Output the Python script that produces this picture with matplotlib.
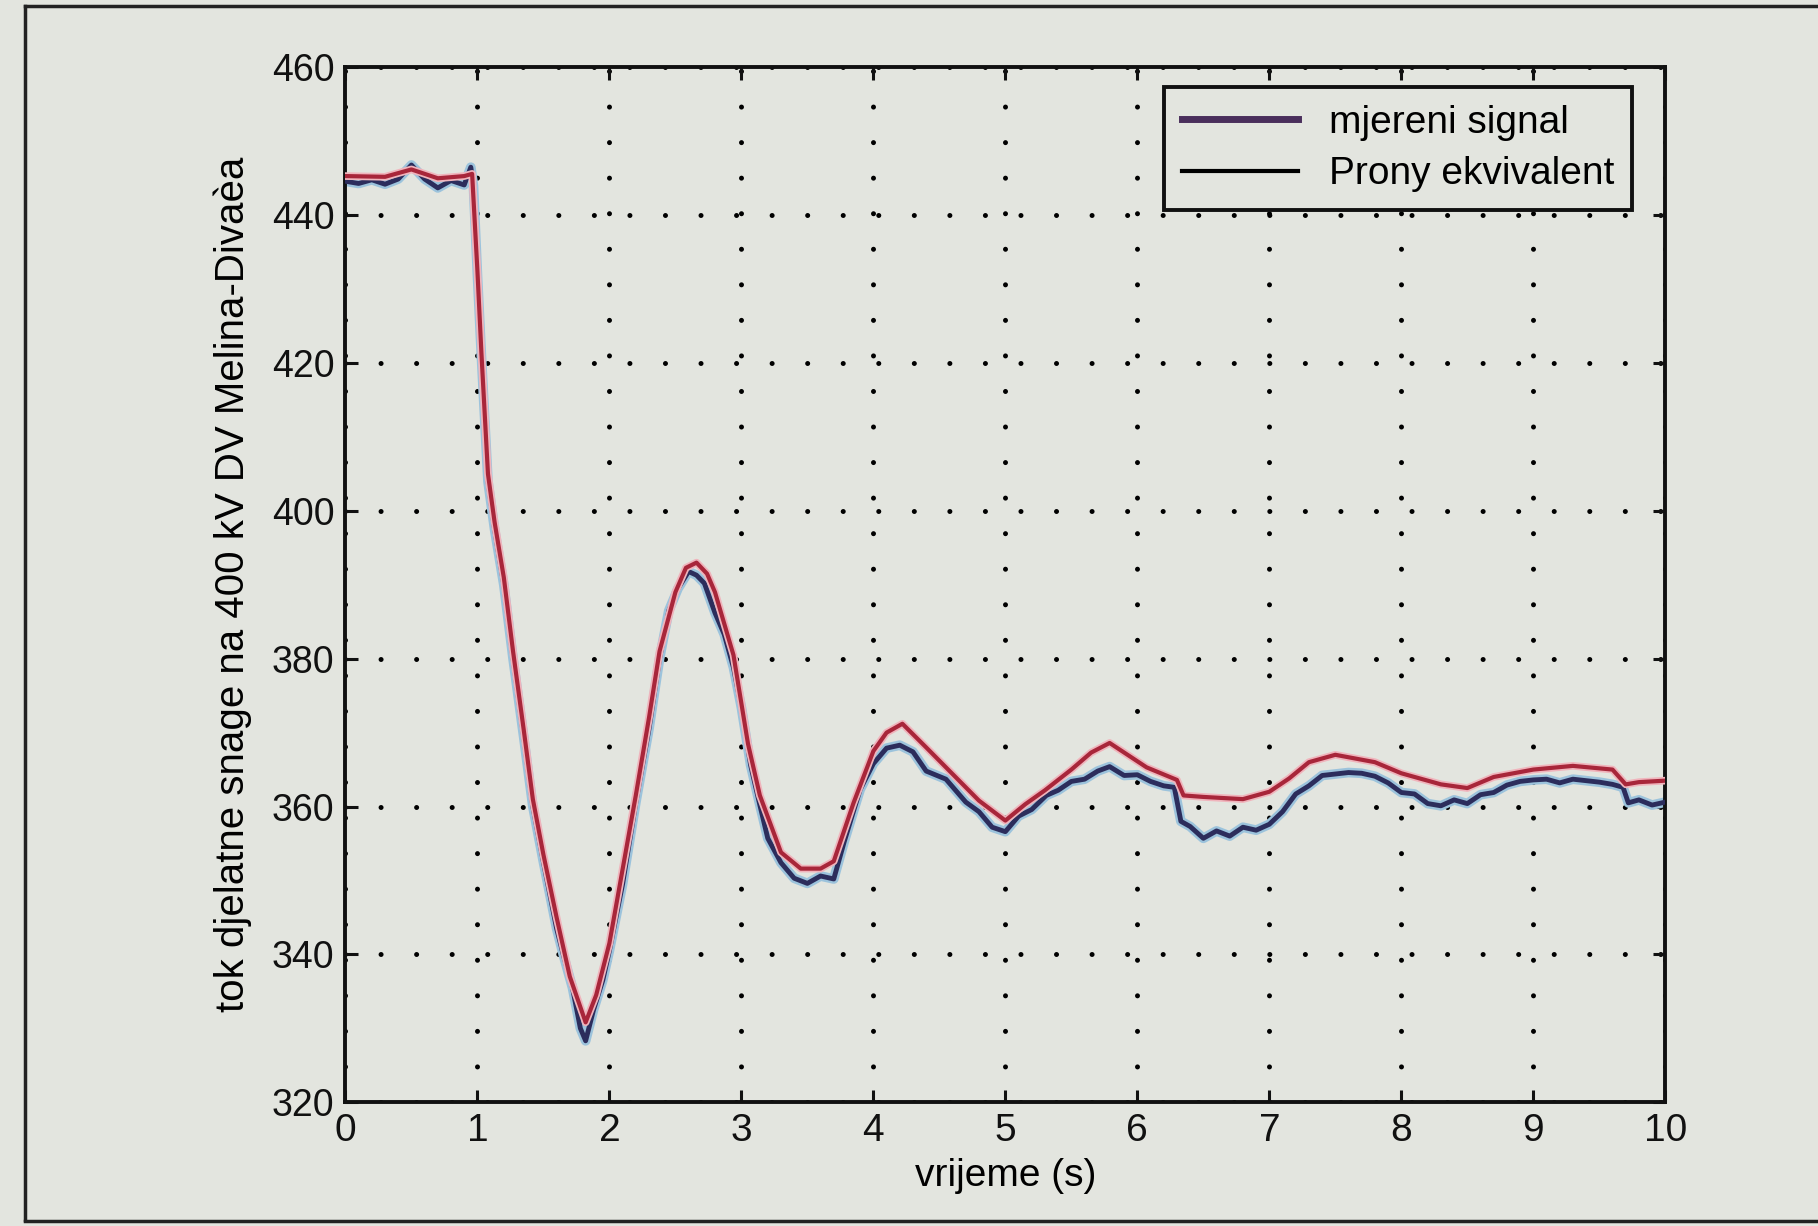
import matplotlib.pyplot as plt
from matplotlib.lines import Line2D

t_meas = [0.0, 0.1, 0.2, 0.3, 0.4, 0.5, 0.6, 0.7, 0.8, 0.9, 0.95, 0.97, 1.0, 1.03,
          1.08, 1.13, 1.2, 1.27, 1.35, 1.42, 1.5, 1.6, 1.65, 1.72, 1.78, 1.82, 1.88,
          1.95, 2.0, 2.1, 2.2, 2.3, 2.38, 2.45, 2.52, 2.6, 2.66, 2.72, 2.8, 2.87,
          2.94, 3.0, 3.07, 3.14, 3.2, 3.3, 3.4, 3.5, 3.6, 3.7, 3.78, 3.85, 3.9, 4.0,
          4.1, 4.2, 4.3, 4.4, 4.55, 4.7, 4.8, 4.9, 5.0, 5.1, 5.2, 5.31, 5.4, 5.5,
          5.6, 5.7, 5.79, 5.9, 6.0, 6.1, 6.2, 6.28, 6.33, 6.4, 6.5, 6.6, 6.7, 6.8,
          6.9, 7.0, 7.1, 7.2, 7.3, 7.4, 7.5, 7.6, 7.7, 7.8, 7.9, 8.0, 8.1, 8.2, 8.3,
          8.4, 8.5, 8.6, 8.7, 8.8, 8.9, 9.0, 9.1, 9.2, 9.3, 9.4, 9.5, 9.6, 9.68,
          9.72, 9.8, 9.9, 10.0]
p_meas = [444.6, 444.3, 444.8, 444.2, 444.9, 446.8, 444.9, 443.7, 444.7, 444.1, 446.5,
          444.0, 432.0, 421.0, 404.0, 397.5, 390.0, 380.0, 369.5, 360.0, 352.5, 343.5,
          340.0, 335.5, 330.0, 328.3, 332.5, 336.5, 340.5, 349.5, 360.5, 370.5, 380.0,
          386.5, 389.5, 391.8, 391.3, 390.2, 386.2, 383.3, 378.8, 373.4, 365.6, 360.2,
          355.7, 352.4, 350.3, 349.6, 350.6, 350.2, 355.3, 359.4, 362.3, 365.8, 367.9,
          368.3, 367.4, 364.8, 363.7, 360.6, 359.3, 357.2, 356.6, 358.7, 359.6, 361.5,
          362.2, 363.4, 363.7, 364.8, 365.4, 364.2, 364.3, 363.4, 362.8, 362.6, 358.0,
          357.3, 355.7, 356.7, 356.0, 357.2, 356.8, 357.6, 359.3, 361.7, 362.8, 364.2,
          364.4, 364.6, 364.5, 364.1, 363.2, 361.9, 361.7, 360.4, 360.1, 360.9, 360.4,
          361.6, 361.9, 362.9, 363.4, 363.6, 363.7, 363.2, 363.7, 363.5, 363.3, 363.0,
          362.6, 360.5, 360.9, 360.2, 360.6]

# Prony ekvivalent
t_prony = [0.0, 0.3, 0.5, 0.7, 0.9, 0.96, 1.0, 1.03, 1.08, 1.13, 1.2, 1.27, 1.35,
           1.42, 1.5, 1.6, 1.7, 1.82, 1.9, 2.0, 2.1, 2.2, 2.3, 2.38, 2.5, 2.58, 2.66,
           2.74, 2.8, 2.94, 3.05, 3.14, 3.3, 3.45, 3.6, 3.7, 3.85, 4.0, 4.1, 4.22,
           4.4, 4.55, 4.8, 5.0, 5.15, 5.3, 5.5, 5.65, 5.79, 6.07, 6.3, 6.35, 6.5,
           6.8, 7.0, 7.15, 7.3, 7.5, 7.8, 8.0, 8.3, 8.5, 8.7, 9.0, 9.3, 9.6, 9.7,
           9.8, 10.0]
p_prony = [445.3, 445.2, 446.2, 445.0, 445.3, 445.6, 432.5, 421.5, 405.0, 398.5, 391.0,
           381.0, 370.5, 361.0, 353.5, 345.0, 337.0, 330.8, 334.5, 341.5, 351.5, 361.5,
           372.0, 381.0, 389.0, 392.3, 393.0, 391.5, 389.0, 380.5, 368.5, 361.5, 353.8,
           351.6, 351.6, 352.6, 360.5, 367.5, 370.0, 371.2, 368.0, 365.3, 360.8, 358.1,
           360.3, 362.2, 365.0, 367.3, 368.6, 365.3, 363.6, 361.5, 361.3, 361.0, 362.0,
           363.8, 366.0, 367.0, 366.0, 364.5, 363.0, 362.5, 364.0, 365.0, 365.5, 365.0,
           363.0, 363.3, 363.5]

bg = '#e3e5df'
fig = plt.figure(figsize=(18.18, 12.26), dpi=100, facecolor=bg)
ax = fig.add_axes([0.190, 0.101, 0.726, 0.844], facecolor=bg)

# measured trace: light blue halo under a dark navy line (scan fringing)
ax.plot(t_meas, p_meas, color='#9cc3dc', lw=7, solid_joinstyle='round', zorder=2)
ax.plot(t_meas, p_meas, color='#2c2d5c', lw=3.5, solid_joinstyle='round', zorder=3)
ax.plot(t_prony, p_prony, color='#f0b4bc', lw=5.5, solid_joinstyle='round', zorder=4)
ax.plot(t_prony, p_prony, color='#a8263a', lw=3, solid_joinstyle='round', zorder=5)

ax.set_xlim(0, 10)
ax.set_ylim(320, 460)
ax.set_xticks(range(0, 11))
ax.set_yticks(range(320, 461, 20))

ax.grid(True, color='black', linestyle=(0, (0.01, 7.1)), linewidth=3.6,
        dash_capstyle='round')
ax.set_axisbelow(True)

for s in ax.spines.values():
    s.set_linewidth(2.8)
    s.set_color('#111111')
ax.tick_params(direction='in', length=9, width=2.2, top=True, right=True,
               colors='#111111', pad=8)

for lab in ax.get_yticklabels():
    lab.set_family(['Liberation Sans', 'DejaVu Sans'])
    lab.set_fontsize(27)
for lab in ax.get_xticklabels():
    lab.set_family(['Liberation Sans', 'DejaVu Sans'])
    lab.set_fontsize(28)

ax.set_xlabel('vrijeme (s)', fontsize=28, labelpad=6,
              family=['Liberation Sans', 'DejaVu Sans'])
ax.set_ylabel('tok djelatne snage na 400 kV DV Melina-Divaèa', fontsize=29, labelpad=14,
              family=['Liberation Sans', 'DejaVu Sans'])

handles = [Line2D([], [], color='#4a2f5c', lw=5),
           Line2D([], [], color='black', lw=3)]
leg = ax.legend(handles, ['mjereni signal', 'Prony ekvivalent'],
                loc='upper right', bbox_to_anchor=(0.975, 0.981), borderaxespad=0,
                prop={'family': 'Liberation Sans', 'size': 28},
                handlelength=3.0, handletextpad=0.8, borderpad=0.45,
                labelspacing=0.4, fancybox=False, framealpha=1,
                facecolor=bg, edgecolor='#111111')
leg.get_frame().set_linewidth(2.8)

# scan frame border
fig.add_artist(Line2D([0.014, 0.014], [0.005, 0.995], color='#222222', lw=2.5,
                      transform=fig.transFigure))
fig.add_artist(Line2D([0.014, 1.0], [0.995, 0.995], color='#222222', lw=2.5,
                      transform=fig.transFigure))
fig.add_artist(Line2D([0.014, 1.0], [0.004, 0.004], color='#222222', lw=2.5,
                      transform=fig.transFigure))

fig.savefig('out.png', dpi=100, facecolor=bg)
